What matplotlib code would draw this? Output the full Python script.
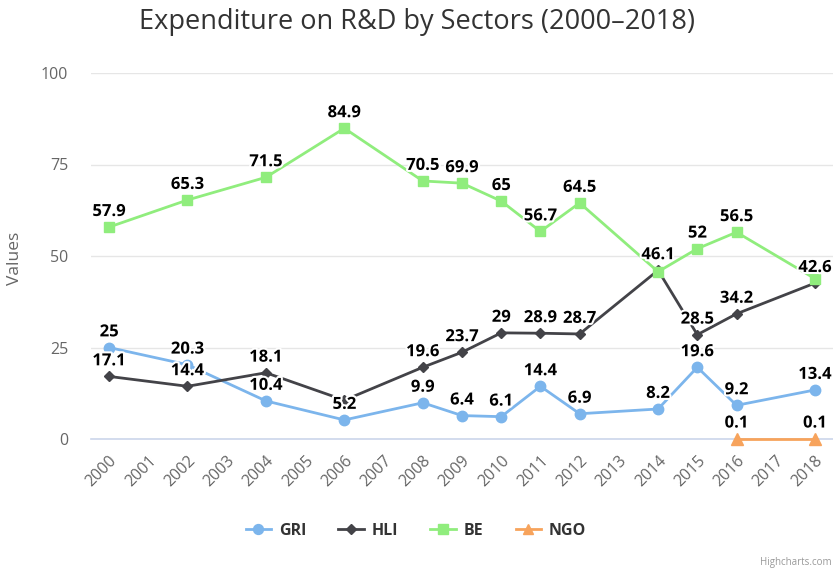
import matplotlib
matplotlib.use("Agg")
import matplotlib.pyplot as plt
import matplotlib.patheffects as pe
from matplotlib.lines import Line2D

years = [str(y) for y in range(2000, 2019)]
gri = [25, None, 20.3, None, 10.4, None, 5.2, None, 9.9, 6.4, 6.1, 14.4, 6.9, None, 8.2, 19.6, 9.2, None, 13.4]
hli = [17.1, None, 14.4, None, 18.1, None, 10.6, None, 19.6, 23.7, 29, 28.9, 28.7, None, 46.1, 28.5, 34.2, None, 42.6]
be = [57.9, None, 65.3, None, 71.5, None, 84.9, None, 70.5, 69.9, 65, 56.7, 64.5, None, 45.7, 52, 56.5, None, 43.8]
ngo = [None] * 16 + [0.1, None, 0.1]

# labels hidden by overlap in the reference
hidden = {"HLI": [6], "BE": [14, 18]}

series = [
    ("GRI", gri, "#7cb5ec", "o", 7.5),
    ("HLI", hli, "#434348", "D", 5.5),
    ("BE", be, "#90ed7d", "s", 7.5),
    ("NGO", ngo, "#f7a35c", "^", 8),
]

fig = plt.figure(figsize=(8.33, 5.71), dpi=100)
ax = fig.add_axes([91 / 833, 1 - 439 / 571, (833 - 91) / 833, 366 / 571])

for name, vals, color, marker, ms in series:
    xs = [i for i, v in enumerate(vals) if v is not None]
    ys = [v for v in vals if v is not None]
    ax.plot(xs, ys, color=color, lw=2, marker=marker, ms=ms, mec=color, mfc=color,
            clip_on=False, zorder=3, label=name)
    for x, y in zip(xs, ys):
        if x in hidden.get(name, []):
            continue
        ax.annotate(f"{y:g}", (x, y), xytext=(0, 8), textcoords="offset points",
                    ha="center", va="baseline", fontsize=12, fontweight="bold",
                    color="black", family="Open Sans", zorder=5,
                    path_effects=[pe.withStroke(linewidth=3, foreground="white")])

ax.set_xlim(-0.46, 18.46)
ax.set_ylim(0, 100)
ax.set_yticks([0, 25, 50, 75, 100])
ax.set_xticks(range(len(years)))
ax.set_xticklabels(years, rotation=45, ha="right", va="top", rotation_mode="anchor",
                   fontsize=11.5, color="#666666", family="Open Sans")
for lab in ax.get_yticklabels():
    lab.set_family("Open Sans")
ax.tick_params(axis="y", length=0, pad=16.5, labelsize=11.5, labelcolor="#666666")
ax.tick_params(axis="x", length=0, pad=10)
ax.grid(axis="y", color="#e6e6e6", lw=1)
ax.set_axisbelow(True)
for s in ["top", "right", "left"]:
    ax.spines[s].set_visible(False)
ax.spines["bottom"].set_color("#ccd6eb")
ax.spines["bottom"].set_linewidth(1.2)

fig.text(15 / 833, 1 - 258 / 571, "Values", rotation=90, ha="center", va="center",
         fontsize=12.5, color="#666666", family="Open Sans")
fig.text(417 / 833, 1 - 22 / 571, "Expenditure on R&D by Sectors (2000–2018)", ha="center",
         va="center", fontsize=19.5, color="#333333", family="Open Sans")
fig.text(832 / 833, 1 - 563 / 571, "Highcharts.com", ha="right", va="center",
         fontsize=7, color="#999999", family="Open Sans")

handles = [Line2D([0], [0], color=c, lw=2, marker=m, ms=ms * 0.95, mec=c, mfc=c)
           for _, _, c, m, ms in series]
leg = fig.legend(handles, [s[0] for s in series], loc="center", ncol=4,
                 bbox_to_anchor=(416 / 833, 1 - 531 / 571), frameon=False,
                 handlelength=1.6, columnspacing=2.0, handletextpad=0.5,
                 prop={"family": "Open Sans", "weight": "bold", "size": 11.5})
for t in leg.get_texts():
    t.set_color("#333333")

fig.savefig("out.png", dpi=100)
